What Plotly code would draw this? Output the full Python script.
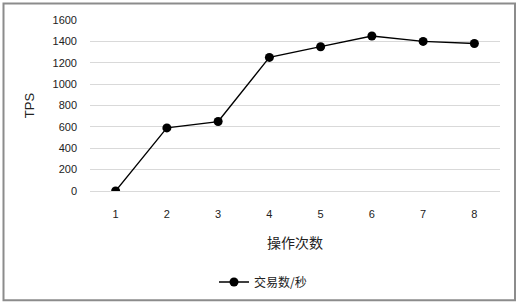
import plotly.graph_objects as go

categories = ["1", "2", "3", "4", "5", "6", "7", "8"]
tps_values = [0, 590, 650, 1250, 1350, 1450, 1400, 1380]
y_ticks = [0, 200, 400, 600, 800, 1000, 1200, 1400, 1600]
series_name = "交易数/秒"
x_title = "操作次数"
y_title = "TPS"

W, H = 519, 307
L, R, T, B = 90, 19, 20, 115
pw, ph = W - L - R, H - T - B

def px_to_paper(x, y):
    return (x - L) / pw, (H - B - y) / ph

fig = go.Figure()
fig.add_trace(go.Scatter(
    x=categories, y=tps_values, name=series_name, mode="lines+markers",
    line=dict(color="black", width=1.3),
    marker=dict(color="black", size=9),
))

x0, y1 = px_to_paper(3.5, 3.5)
x1, y0 = px_to_paper(515, 302)
fig.add_shape(type="rect", xref="paper", yref="paper", x0=x0, x1=x1, y0=y0, y1=y1,
              line=dict(color="#8c8c8c", width=2))

lx, ly = px_to_paper(263, 282)
fig.update_layout(
    width=W, height=H, margin=dict(l=L, r=R, t=T, b=B),
    paper_bgcolor="white", plot_bgcolor="white",
    font=dict(family="Liberation Sans, Noto Sans CJK SC", size=11, color="#222"),
    showlegend=True,
    legend=dict(orientation="h", x=lx, y=ly, xanchor="center", yanchor="middle",
                font=dict(family="Noto Sans CJK SC", size=12, color="#222")),
    xaxis=dict(type="category", range=[-0.5, 7.5], showgrid=False, zeroline=False,
               showline=False, ticks="", ticklabelstandoff=15, tickfont=dict(size=11),
               title=dict(text=x_title, font=dict(family="Noto Sans CJK SC", size=14), standoff=19)),
    yaxis=dict(range=[0, 1600], tickvals=y_ticks, showgrid=True, gridcolor="#d9d9d9",
               gridwidth=1, zeroline=True, zerolinecolor="#d9d9d9", zerolinewidth=1,
               showline=False, ticks="", ticklabelstandoff=12, tickfont=dict(size=11),
               title=dict(text=y_title, font=dict(size=13), standoff=14)),
)

fig.write_html("out.html", config={"displayModeBar": False},
               post_script="document.body.style.margin='0';document.body.style.overflow='hidden';")
